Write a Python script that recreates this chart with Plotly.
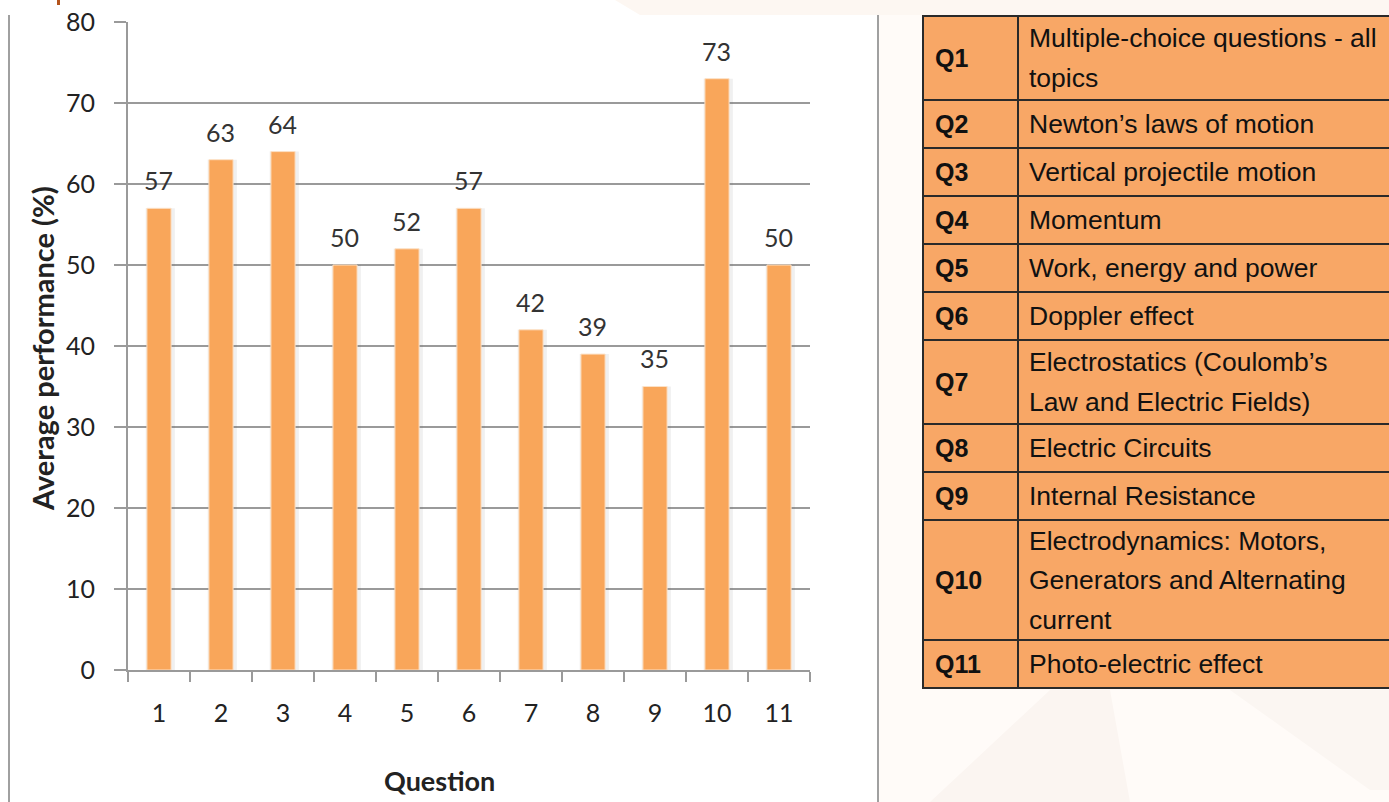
import plotly.graph_objects as go

# ---- data -------------------------------------------------------------
questions = ["1", "2", "3", "4", "5", "6", "7", "8", "9", "10", "11"]
performance = [57, 63, 64, 50, 52, 57, 42, 39, 35, 73, 50]

y_ticks = [0, 10, 20, 30, 40, 50, 60, 70, 80]

table_codes = ["Q1", "Q2", "Q3", "Q4", "Q5", "Q6", "Q7", "Q8", "Q9", "Q10", "Q11"]
table_topics = [
    ["Multiple-choice questions - all", "topics"],
    ["Newton\u2019s laws of motion"],
    ["Vertical projectile motion"],
    ["Momentum"],
    ["Work, energy and power"],
    ["Doppler effect"],
    ["Electrostatics (Coulomb\u2019s", "Law and Electric Fields)"],
    ["Electric Circuits"],
    ["Internal Resistance"],
    ["Electrodynamics: Motors,", "Generators and Alternating", "current"],
    ["Photo-electric effect"],
]

# ---- page geometry ------------------------------------------------------
W, H = 1389, 802
BAR = "#F9A65A"
CELL = "#F8A766"
TXT = "#222222"
FONT = "Lato"


def px(x):
    return x / W


def py(y):
    return 1 - y / H


fig = go.Figure()

# soft halo behind each bar
fig.add_trace(go.Bar(
    x=questions,
    y=performance,
    width=0.47,
    offset=-0.215,
    marker=dict(color="rgba(110,110,110,0.10)", line=dict(width=0)),
    hoverinfo="skip",
    showlegend=False,
))
fig.add_trace(go.Bar(
    x=questions,
    y=performance,
    width=0.39,
    offset=-0.195,
    marker=dict(color=BAR, line=dict(color="#FCE1C6", width=1)),
    hoverinfo="x+y",
    showlegend=False,
))

shapes = []
annotations = []

# faint background wash
shapes.append(dict(type="rect", xref="paper", yref="paper", layer="below",
                   x0=px(878), x1=1.0, y0=0, y1=py(15),
                   fillcolor="#FFFBF8", line=dict(width=0)))
shapes.append(dict(type="path", xref="paper", yref="paper", layer="below",
                   path=f"M {px(615)} 1 L {1.0} 1 L 1.0 {py(15)} L {px(640)} {py(15)} Z",
                   fillcolor="#FDF7F2", line=dict(width=0)))
shapes.append(dict(type="path", xref="paper", yref="paper", layer="below",
                   path=f"M {px(930)} 0 L {px(1050)} {py(690)} L {px(1110)} {py(690)} L {px(1130)} 0 Z",
                   fillcolor="#FBF5F1", line=dict(width=0)))
shapes.append(dict(type="path", xref="paper", yref="paper", layer="below",
                   path=f"M {px(1230)} {py(690)} L {px(1370)} {py(790)} L {px(1389)} {py(790)} L {px(1389)} {py(690)} Z",
                   fillcolor="#FBF6F2", line=dict(width=0)))

# page separators
for xs in (9, 878):
    shapes.append(dict(type="line", xref="paper", yref="paper",
                       x0=px(xs), x1=px(xs), y0=py(15), y1=0,
                       line=dict(color="#A0A0A0", width=2)))

# heading fragment at the top edge
shapes.append(dict(type="rect", xref="paper", yref="paper",
                   x0=px(57), x1=px(60), y0=py(5), y1=1,
                   fillcolor="#B4541C", line=dict(width=0)))

# value labels above the bars (category index positions)
for i, v in enumerate(performance):
    annotations.append(dict(x=i, y=v, xref="x", yref="y", text=str(v),
                            showarrow=False, yshift=28, xshift=-1,
                            font=dict(family=FONT, size=25, color="#333333")))

# axis titles
annotations.append(dict(x=px(439), y=py(780), xref="paper", yref="paper",
                        xanchor="center", yanchor="middle",
                        text="<b>Question</b>", showarrow=False,
                        font=dict(family=FONT, size=27, color=TXT)))
annotations.append(dict(x=px(42), y=py(349), xref="paper", yref="paper",
                        xanchor="center", yanchor="middle",
                        text="<b>Average performance (%)</b>", showarrow=False,
                        textangle=-90,
                        font=dict(family=FONT, size=29, color=TXT)))

# ---- topic table --------------------------------------------------------
TX0, TX1, TX2 = 923, 1018, 1400
ty = 16
LINE_GAP = 39.5
for code, lines in zip(table_codes, table_topics):
    h = 48 + 36 * (len(lines) - 1)
    y0, y1 = ty, ty + h
    for xa, xb in ((TX0, TX1), (TX1, TX2)):
        shapes.append(dict(type="rect", xref="paper", yref="paper",
                           x0=px(xa), x1=px(xb), y0=py(y1), y1=py(y0),
                           fillcolor=CELL, line=dict(color="#2A2A2A", width=2)))
    yc = (y0 + y1) / 2
    annotations.append(dict(x=px(933), y=py(yc), xref="paper", yref="paper",
                            text=f"<b>{code}</b>", showarrow=False,
                            xanchor="left", yanchor="middle",
                            font=dict(family="Liberation Sans", size=25, color="#111111")))
    n = len(lines)
    for i, line in enumerate(lines):
        ly = yc + (i - (n - 1) / 2) * LINE_GAP
        annotations.append(dict(x=px(1027), y=py(ly), xref="paper", yref="paper",
                                text=line, showarrow=False,
                                xanchor="left", yanchor="middle",
                                font=dict(family="Liberation Sans", size=26.5, color="#111111")))
    ty = y1

fig.update_layout(
    width=W, height=H,
    margin=dict(l=0, r=0, t=0, b=0, autoexpand=False),
    paper_bgcolor="white",
    plot_bgcolor="rgba(0,0,0,0)",
    barmode="overlay",
    shapes=shapes,
    annotations=annotations,
    xaxis=dict(
        domain=[px(128), px(810)],
        type="category",
        range=[-0.5, len(questions) - 0.5],
        automargin=False,
        showgrid=False,
        showline=True, linecolor="#9A9A9A", linewidth=2,
        ticks="outside", ticklen=10, tickcolor="#9A9A9A", tickwidth=2,
        tickson="boundaries",
        ticklabelstandoff=20,
        tickfont=dict(family=FONT, size=25, color=TXT),
        fixedrange=True,
    ),
    yaxis=dict(
        domain=[py(670), py(22)],
        range=[0, 80],
        tickvals=y_ticks,
        automargin=False,
        showgrid=True, gridcolor="#9A9A9A", gridwidth=1.5,
        zeroline=False,
        showline=True, linecolor="#9A9A9A", linewidth=2,
        ticks="outside", ticklen=12, tickcolor="#9A9A9A", tickwidth=2,
        ticklabelstandoff=14,
        tickfont=dict(family=FONT, size=25, color=TXT),
        fixedrange=True,
    ),
)

fig.write_html("out.html")
